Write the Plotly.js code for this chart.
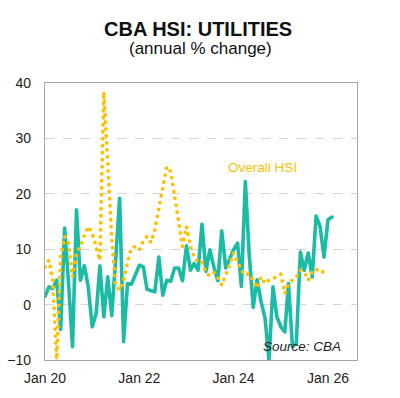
<!DOCTYPE html>
<html>
<head>
<meta charset="utf-8">
<script src="https://cdn.plot.ly/plotly-3.0.1.min.js"></script>
<style>
html,body{margin:0;padding:0;background:#fff;}
#chart{width:400px;height:398px;}
.scatterlayer .trace path.js-line{stroke-linecap:round;stroke-linejoin:round;}
</style>
</head>
<body>
<div id="chart"></div>
<script>
// Monthly series, starting January 2020
const startYear = 2020;
const utilities = [
  1.5, 3.2, 2.9, 4.4, -4.5, 13.8, 4.0, -7.6, 17.1, 4.4, 7.0, 3.2,
  -4.0, -1.5, 7.0, -2.2, 5.0, -2.0, 8.0, 19.2, -6.7, 3.8, 3.7, 5.5,
  7.1, 6.8, 2.8, 2.5, 2.3, 8.6, 1.7, 4.4, 4.2, 6.6, 6.6, 4.3,
  10.6, 6.2, 7.4, 6.2, 14.5, 6.0, 9.9, 6.8, 4.3, 13.3, 6.6, 8.2,
  9.9, 11.1, 3.3, 22.2, 9.0, -0.5, 4.5, 0.5, -2.5, -10.0, 3.2, -2.2,
  -4.0, -4.9, 3.8, -7.6, -7.0, 9.5, 6.2, 9.3, 5.0, 16.0, 14.1, 8.6,
  15.3, 15.8
];
const overallHSI = [
  6.8, 8.0, 4.4, -10.5, 8.6, 12.3, 11.1, 5.0, 9.3, 10.5, 12.5, 14.1,
  12.9, 10.5, 8.0, 38.4, 25.0, 12.0, 3.5, 2.6, 4.4, 7.7, 10.2, 10.5,
  9.9, 11.5, 12.3, 11.2, 13.5, 17.1, 21.0, 24.9, 24.0, 19.8, 14.7, 10.5,
  14.1, 10.5, 8.6, 7.6, 7.7, 5.8, 5.2, 5.8, 4.9, 3.5, 5.3, 7.5,
  9.3, 7.7, 6.2, 5.3, 5.6, 4.4, 3.0, 5.0, 3.8, 4.4, 4.7, 5.0,
  5.5, 2.0, 3.8, 4.4, 5.0, 6.2, 5.9, 4.4, 5.9, 6.4, 5.8, 6.0,
  5.9
];
const tickDates = ['2020-01-01', '2022-01-01', '2024-01-01', '2026-01-01'];
const tickLabels = ['Jan 20', 'Jan 22', 'Jan 24', 'Jan 26'];
const yTicks = [-10, 0, 10, 20, 30, 40];

function monthDates(n) {
  const out = [];
  for (let i = 0; i < n; i++) {
    const y = startYear + Math.floor(i / 12);
    const m = (i % 12) + 1;
    out.push(y + '-' + (m < 10 ? '0' + m : m) + '-01');
  }
  return out;
}

const xRange = ['2020-01-01', '2026-08-14'];
const yRange = [-10, 40];
const font = 'Liberation Sans, Arial, sans-serif';

const traces = [
  {
    x: monthDates(utilities.length), y: utilities, type: 'scatter', mode: 'lines',
    line: {color: '#1CBBA5', width: 3.6}, hoverinfo: 'skip', showlegend: false
  },
  {
    x: monthDates(overallHSI.length), y: overallHSI, type: 'scatter', mode: 'lines',
    line: {color: '#FFC000', width: 3.9, dash: '0px,7px'}, hoverinfo: 'skip', showlegend: false
  }
];

const layout = {
  width: 400, height: 398,
  margin: {l: 45, r: 43, t: 83, b: 38},
  paper_bgcolor: '#fff', plot_bgcolor: '#fff',
  font: {family: font, size: 14, color: '#222'},
  showlegend: false,
  xaxis: {
    type: 'date', range: xRange, tickvals: tickDates, ticktext: tickLabels,
    ticks: '', showgrid: false, zeroline: false,
    showline: true, mirror: true, linecolor: '#a6a6a6', linewidth: 1.2,
    tickfont: {family: font, size: 14, color: '#222'}, ticklabelstandoff: 5
  },
  xaxis2: {
    type: 'date', range: xRange, tickvals: tickDates, overlaying: 'x',
    anchor: 'free', position: 0.2, side: 'bottom',
    ticks: 'outside', ticklen: 4, tickwidth: 1.5, tickcolor: '#555',
    showticklabels: false, showgrid: false, zeroline: false,
    showline: true, linecolor: '#555', linewidth: 1.5
  },
  yaxis: {
    range: yRange, tickvals: yTicks, ticks: '', zeroline: false,
    showgrid: true, gridcolor: '#d4d4d4', griddash: 'dash', gridwidth: 1,
    showline: true, mirror: true, linecolor: '#a6a6a6', linewidth: 1.2,
    tickfont: {family: font, size: 14, color: '#222'}, ticklabelstandoff: 10
  },
  yaxis2: {
    range: yRange, tickvals: yTicks, overlaying: 'y', side: 'right',
    ticks: '', showgrid: false, zeroline: false, showline: false,
    tickfont: {family: font, size: 14, color: '#222'}, ticklabelstandoff: 10
  },
  annotations: [
    {text: '<b>CBA HSI: UTILITIES</b>', xref: 'paper', yref: 'paper', x: 0.49, y: 1.195,
     xanchor: 'center', yanchor: 'middle', showarrow: false,
     font: {family: font, size: 20, color: '#111'}},
    {text: '(annual % change)', xref: 'paper', yref: 'paper', x: 0.497, y: 1.124,
     xanchor: 'center', yanchor: 'middle', showarrow: false,
     font: {family: font, size: 17, color: '#111'}},
    {text: 'Overall HSI', xref: 'x', yref: 'y', x: '2024-08-10', y: 24.8,
     xanchor: 'center', yanchor: 'middle', showarrow: false,
     font: {family: font, size: 13.5, color: '#FFC000'}},
    {text: '<i>Source: CBA</i>', xref: 'paper', yref: 'paper', x: 0.955, y: 0.05,
     xanchor: 'right', yanchor: 'middle', showarrow: false,
     font: {family: font, size: 13.5, color: '#222'}}
  ]
};

Plotly.newPlot('chart', traces, layout, {staticPlot: true, displayModeBar: false});
</script>
</body>
</html>
